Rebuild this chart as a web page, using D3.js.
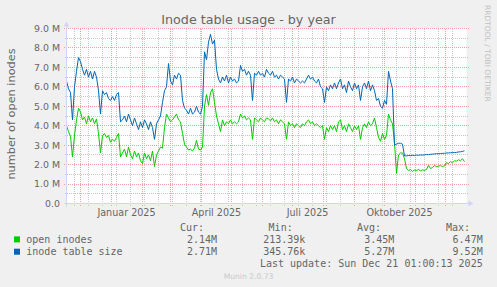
<!DOCTYPE html>
<html><head><meta charset="utf-8">
<script src="https://cdn.jsdelivr.net/npm/d3@7/dist/d3.min.js"></script>
<style>body{margin:0;background:#F0F0F0;}svg{display:block}</style>
</head><body>
<svg id="chart" width="497" height="287"></svg>
<script>
// ---------- data ----------
const chartTitle = "Inode table usage - by year";
const yAxisLabel = "number of open inodes";
const startDate = "2024-11-17T00:00:00";
const endDate = "2025-12-22T00:00:00";
const stepDays = 2; // one value every 2 days
// open inodes (millions)
const openInodes = [
4.0,3.7,3.45,2.4,3.5,4.3,4.9,4.7,4.3,4.45,
4.1,4.5,4.2,4.4,4.1,4.35,3.6,2.6,3.5,3.6,
3.4,3.5,3.15,3.3,3.2,3.4,3.6,2.4,2.6,2.8,
2.4,2.9,2.5,2.3,2.7,2.4,2.6,2.2,2.05,2.6,
2.3,2.5,2.2,2.7,1.9,2.5,2.7,2.9,2.85,3.9,
4.6,4.4,4.2,4.3,4.45,4.6,4.3,4.2,3.6,3.05,
2.9,2.75,2.8,2.7,2.85,3.25,2.8,2.75,2.9,5.0,
5.6,5.05,5.7,5.9,5.2,4.5,4.1,3.7,4.3,4.0,
4.2,4.1,4.3,4.1,4.2,4.1,4.2,4.6,4.4,4.5,
4.3,4.4,4.3,3.3,4.4,4.3,4.2,4.4,4.3,4.2,
4.4,4.35,4.25,4.4,4.2,4.3,4.1,4.3,4.2,4.1,
3.3,4.2,4.0,4.1,3.9,4.1,4.0,3.9,4.1,4.0,
4.2,4.3,4.1,4.2,4.0,4.1,4.0,3.9,4.0,3.3,
3.9,3.7,4.0,3.8,4.0,3.7,4.2,4.3,3.8,4.0,
3.7,4.1,3.9,3.7,4.0,3.8,4.0,3.3,3.9,4.1,
3.9,4.2,4.0,4.1,4.4,3.9,3.4,3.2,3.6,3.3,
3.5,4.6,4.3,4.1,3.1,1.55,2.5,2.6,2.6,2.3,
1.8,1.7,1.75,1.65,1.72,1.7,1.75,1.68,1.73,1.7,
1.75,1.97,1.8,1.85,1.95,1.9,1.92,1.95,1.9,1.93,
2.1,2.05,2.15,2.1,2.2,2.18,2.25,2.2,2.3,2.15];
// inode table size (millions)
const inodeTableSize = [
6.3,5.9,5.7,4.3,6.0,6.8,7.5,7.3,6.9,6.6,
6.9,6.5,6.8,6.4,6.8,6.5,5.8,4.6,5.8,5.6,
5.7,5.4,5.3,5.5,5.3,5.6,5.7,4.2,4.3,4.5,
4.2,4.6,4.3,4.0,4.4,4.1,3.8,4.2,3.9,4.3,
4.1,3.8,4.2,3.9,3.3,4.1,4.3,4.5,5.2,5.8,
6.0,7.2,6.3,6.1,6.6,6.4,6.7,6.6,5.3,4.9,
4.8,4.6,4.9,4.6,4.7,5.0,4.7,4.6,5.0,7.8,
7.4,8.3,8.7,8.2,8.4,6.9,6.4,6.2,6.5,6.3,
6.6,6.2,6.5,6.3,6.4,6.2,6.3,7.1,6.8,6.9,
6.6,6.8,6.6,5.3,6.7,6.6,6.8,6.6,6.7,6.5,
6.9,6.7,6.6,6.8,6.5,6.6,6.4,6.6,6.5,6.4,
5.2,6.4,6.3,6.5,6.2,6.4,6.3,6.2,6.3,6.2,
6.4,6.6,6.4,6.5,6.3,6.2,6.4,6.0,5.9,5.2,
6.0,5.8,6.1,5.9,6.2,5.9,6.2,6.4,5.9,6.1,
5.7,6.3,6.0,5.8,6.2,5.9,6.1,5.3,6.0,6.2,
5.9,6.3,5.8,6.1,5.8,5.3,5.4,5.0,4.9,5.3,
5.1,6.8,6.3,5.9,3.0,3.05,3.1,3.1,3.05,2.45,
2.45,2.47,2.46,2.48,2.47,2.49,2.48,2.5,2.49,2.5,
2.52,2.51,2.53,2.54,2.55,2.56,2.56,2.57,2.58,2.58,
2.6,2.6,2.61,2.62,2.62,2.63,2.65,2.66,2.68,2.71];
const yTicks = [0,1,2,3,4,5,6,7,8,9];
const yTickLabels = ["0.0","1.0 M","2.0 M","3.0 M","4.0 M","5.0 M","6.0 M","7.0 M","8.0 M","9.0 M"];
const xLabelDates = ["2025-01-16","2025-04-16","2025-07-16","2025-10-16"];
const xLabels = ["Januar 2025","April 2025","Juli 2025","Oktober 2025"];
const seriesNames = ["open inodes","inode table size"];
const seriesColors = ["#00CC00","#0066B3"];
const legendHeaders = ["Cur:","Min:","Avg:","Max:"];
const legendCur = ["2.14M","2.71M"];
const legendMin = ["213.39k","345.76k"];
const legendAvg = ["3.45M","5.27M"];
const legendMax = ["6.47M","9.52M"];
const lastUpdate = "Last update: Sun Dec 21 01:00:13 2025";
const versionText = "Munin 2.0.73";
const sideText = "RRDTOOL / TOBI OETIKER";

// ---------- drawing ----------
const svg = d3.select("#chart");
const W = 497, H = 287;
const L = 66.5, R = 466.5, T = 28.5, B = 203.5;
const FONT = "'DejaVu Sans', sans-serif";
const MONO = "'DejaVu Sans Mono', monospace";
const TXT = "#666666";
const crisp = v => Math.round(v - 0.5) + 0.5;

svg.append("rect").attr("width", W).attr("height", H).attr("fill", "#F0F0F0");

const t0 = new Date(startDate), t1 = new Date(endDate);
const x = d3.scaleTime().domain([t0, t1]).range([L, R]);
const y = d3.scaleLinear().domain([0, 9]).range([B, T]);

svg.append("rect").attr("x", L).attr("y", T - 0.5).attr("width", R - L).attr("height", B - T + 0.5).attr("fill", "#FFFFFF");

const grid = svg.append("g").attr("shape-rendering", "crispEdges");
const minorCol = "#C8C8C8", majorCol = "#EFA0A0";
// minor horizontal
d3.range(0.5, 9, 1).forEach(v => {
  const yy = crisp(y(v));
  grid.append("line").attr("x1", L - 2).attr("x2", R + 2).attr("y1", yy).attr("y2", yy)
    .attr("stroke", minorCol).attr("stroke-dasharray", "1,1");
});
// minor vertical: biweekly Mondays
const mondays = d3.timeMonday.every(1).range(new Date("2024-11-25T00:00:00"), t1).filter((d, i) => i % 2 === 0);
mondays.forEach(d => {
  const xx = crisp(x(d));
  grid.append("line").attr("x1", xx).attr("x2", xx).attr("y1", T).attr("y2", B + 2)
    .attr("stroke", minorCol).attr("stroke-dasharray", "1,1");
});
// major horizontal
yTicks.forEach(v => {
  if (v === 0) return;
  const yy = crisp(y(v));
  grid.append("line").attr("x1", L - 3).attr("x2", R + 2).attr("y1", yy).attr("y2", yy)
    .attr("stroke", majorCol).attr("stroke-dasharray", "1,1");
});
// major vertical: months
d3.timeMonth.range(t0, t1).forEach(d => {
  const xx = crisp(x(d));
  grid.append("line").attr("x1", xx).attr("x2", xx).attr("y1", T).attr("y2", B + 3)
    .attr("stroke", majorCol).attr("stroke-dasharray", "1,1");
});

// y tick labels
yTicks.forEach((v, i) => {
  svg.append("text").attr("x", 60).attr("y", y(v) + 3.4).attr("text-anchor", "end")
    .attr("font-family", FONT).attr("font-size", 9.4).attr("fill", TXT).text(yTickLabels[i]);
});
// x labels
xLabelDates.forEach((d, i) => {
  svg.append("text").attr("x", x(new Date(d + "T00:00:00"))).attr("y", 216).attr("text-anchor", "middle")
    .attr("font-family", FONT).attr("font-size", 9.6).attr("fill", TXT).text(xLabels[i]);
});

// series
const dates = openInodes.map((_, i) => d3.timeDay.offset(t0, i * stepDays));
const line = d3.line().x((d, i) => x(dates[i])).y(d => y(d));
[openInodes, inodeTableSize].forEach((s, k) => {
  svg.append("path").attr("d", line(s)).attr("fill", "none")
    .attr("stroke", seriesColors[k]).attr("stroke-width", 1);
});

// axes
const AX = "#CFD6F8";
const ax = svg.append("g").attr("shape-rendering", "crispEdges");
ax.append("line").attr("x1", L - 3).attr("x2", R + 3).attr("y1", B).attr("y2", B).attr("stroke", AX);
ax.append("line").attr("x1", L).attr("x2", L).attr("y1", B + 3).attr("y2", T - 3).attr("stroke", AX);
svg.append("path").attr("d", `M${R+2},${B-3}L${R+7},${B}L${R+2},${B+3}Z`).attr("fill", AX);
svg.append("path").attr("d", `M${L-3},${T-2}L${L},${T-7}L${L+3},${T-2}Z`).attr("fill", AX);

// title
svg.append("text").attr("x", 248.5).attr("y", 24).attr("text-anchor", "middle")
  .attr("font-family", FONT).attr("font-size", 12.7).attr("fill", TXT).text(chartTitle);
// y axis label
svg.append("text").attr("transform", "translate(15.3,114) rotate(-90)").attr("text-anchor", "middle")
  .attr("font-family", FONT).attr("font-size", 11.3).attr("fill", TXT).text(yAxisLabel);
// side watermark
svg.append("text").attr("transform", "translate(485,5) rotate(90)").attr("text-anchor", "start")
  .attr("font-family", FONT).attr("font-size", 7.5).attr("fill", "#C0C0C0").text(sideText);

// legend
const hx = [204, 292.7, 381, 470];
const vx = [217, 305.3, 394.3, 482.7];
legendHeaders.forEach((h, i) => {
  svg.append("text").attr("x", hx[i]).attr("y", 231).attr("text-anchor", "end")
    .attr("font-family", MONO).attr("font-size", 10).attr("fill", TXT).text(h);
});
const cols = [legendCur, legendMin, legendAvg, legendMax];
seriesNames.forEach((n, k) => {
  const by = 242.7 + k * 12.3;
  svg.append("rect").attr("x", 14).attr("y", by - 6.3).attr("width", 6).attr("height", 6).attr("fill", seriesColors[k]);
  svg.append("text").attr("x", 26.3).attr("y", by)
    .attr("font-family", MONO).attr("font-size", 10).attr("fill", TXT).text(n);
  cols.forEach((c, i) => {
    svg.append("text").attr("x", vx[i]).attr("y", by).attr("text-anchor", "end")
      .attr("font-family", MONO).attr("font-size", 10).attr("fill", TXT).text(c[k]);
  });
});
svg.append("text").attr("x", 482.7).attr("y", 267).attr("text-anchor", "end")
  .attr("font-family", MONO).attr("font-size", 10).attr("fill", TXT).text(lastUpdate);
svg.append("text").attr("x", 248.5).attr("y", 278.5).attr("text-anchor", "middle")
  .attr("font-family", FONT).attr("font-size", 7.6).attr("fill", "#C8C8C8").text(versionText);
</script>
</body></html>
